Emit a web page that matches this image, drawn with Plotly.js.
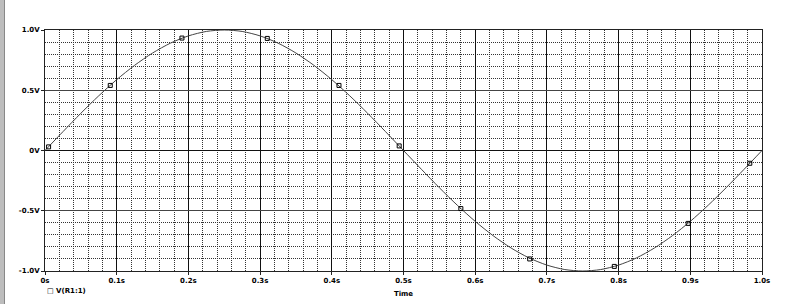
<!DOCTYPE html>
<html>
<head>
<meta charset="utf-8">
<script src="https://cdn.plot.ly/plotly-3.0.1.min.js"></script>
<style>
  html, body { margin: 0; padding: 0; background: #fff; }
  #wrap { position: relative; width: 792px; height: 304px; }
  #strip { position: absolute; left: 0; top: 0; width: 4px; height: 304px; background: #bdbdbd; border-right: 1px solid #888; }
  #chart { position: absolute; left: 0; top: 0; width: 792px; height: 304px; }
</style>
</head>
<body>
<div id="wrap">
  <div id="chart"></div>
  <div id="strip"></div>
</div>
<script>
// Waveform V(R1:1) (time in s, value in V)
const time = [0, 0.025, 0.05, 0.075, 0.1, 0.125, 0.15, 0.175, 0.2, 0.225, 0.25,
  0.275, 0.3, 0.325, 0.35, 0.375, 0.4, 0.425, 0.45, 0.475, 0.5,
  0.525, 0.55, 0.575, 0.6, 0.625, 0.65, 0.675, 0.7, 0.725, 0.75,
  0.775, 0.8, 0.825, 0.85, 0.875, 0.9, 0.925, 0.95, 0.975, 1.0];
const voltage = [0, 0.156, 0.309, 0.454, 0.588, 0.707, 0.809, 0.891, 0.951, 0.988, 1.0,
  0.988, 0.951, 0.891, 0.809, 0.707, 0.588, 0.454, 0.309, 0.156, 0,
  -0.156, -0.309, -0.454, -0.588, -0.707, -0.809, -0.891, -0.951, -0.988, -1.0,
  -0.988, -0.951, -0.891, -0.809, -0.707, -0.588, -0.454, -0.309, -0.156, 0];
// Marker positions along the trace
const markerTime = [0.005, 0.091, 0.191, 0.310, 0.410, 0.494, 0.580, 0.676, 0.794, 0.897, 0.983];
const markerVoltage = [0.03, 0.54, 0.933, 0.93, 0.54, 0.038, -0.482, -0.90, -0.962, -0.605, -0.106];
const xTickVals = [0, 0.1, 0.2, 0.3, 0.4, 0.5, 0.6, 0.7, 0.8, 0.9, 1.0];
const xTickText = ['0s', '0.1s', '0.2s', '0.3s', '0.4s', '0.5s', '0.6s', '0.7s', '0.8s', '0.9s', '1.0s'];
const yTickVals = [-1, -0.5, 0, 0.5, 1];
const yTickText = ['-1.0V', '-0.5V', '0V', '0.5V', '1.0V'];
const seriesName = 'V(R1:1)';
const xTitle = 'Time';

const tickFont = { family: 'DejaVu Sans', size: 7, color: '#000', weight: 'bold' };

const traces = [
  { x: time, y: voltage, type: 'scatter', mode: 'lines', line: { color: '#444', width: 1, shape: 'spline', smoothing: 0.8 }, hoverinfo: 'skip', showlegend: false },
  { x: markerTime, y: markerVoltage, type: 'scatter', mode: 'markers', name: seriesName,
    marker: { symbol: 'square-open', size: 4, color: '#000', line: { width: 1, color: '#000' } }, showlegend: false }
];

const layout = {
  width: 792, height: 304,
  margin: { l: 45, r: 30, t: 30, b: 33 },
  paper_bgcolor: '#fff', plot_bgcolor: '#fff',
  showlegend: false,
  xaxis: {
    range: [0, 1], tickvals: xTickVals, ticktext: xTickText, tickfont: tickFont,
    showgrid: true, gridcolor: '#111', gridwidth: 1,
    minor: { dtick: 0.02, showgrid: true, gridcolor: '#333', griddash: '1px,1px', gridwidth: 1, ticks: '' },
    showline: true, linecolor: '#222', linewidth: 1, mirror: true,
    ticks: 'outside', ticklen: 3, tickcolor: '#222', zeroline: false,
    title: { text: xTitle, font: { family: 'DejaVu Sans', size: 7, color: '#000', weight: 'bold' }, standoff: 6 }
  },
  yaxis: {
    range: [-1, 1], tickvals: yTickVals, ticktext: yTickText, tickfont: tickFont,
    showgrid: true, gridcolor: '#444', gridwidth: 1,
    minor: { dtick: 0.1, showgrid: true, gridcolor: '#333', griddash: '1px,1px', gridwidth: 1, ticks: '' },
    showline: true, linecolor: '#222', linewidth: 1, mirror: true,
    ticks: 'outside', ticklen: 3, tickcolor: '#222', zeroline: true, zerolinecolor: '#111', zerolinewidth: 1
  },
  annotations: [
    { xref: 'paper', yref: 'paper', x: 0, y: -0.06, xanchor: 'left', yanchor: 'top', showarrow: false,
      text: '\u25A1 ' + seriesName, font: { family: 'DejaVu Sans', size: 7, color: '#000', weight: 'bold' } }
  ]
};

Plotly.newPlot('chart', traces, layout, { staticPlot: true, displayModeBar: false });
</script>
</body>
</html>
